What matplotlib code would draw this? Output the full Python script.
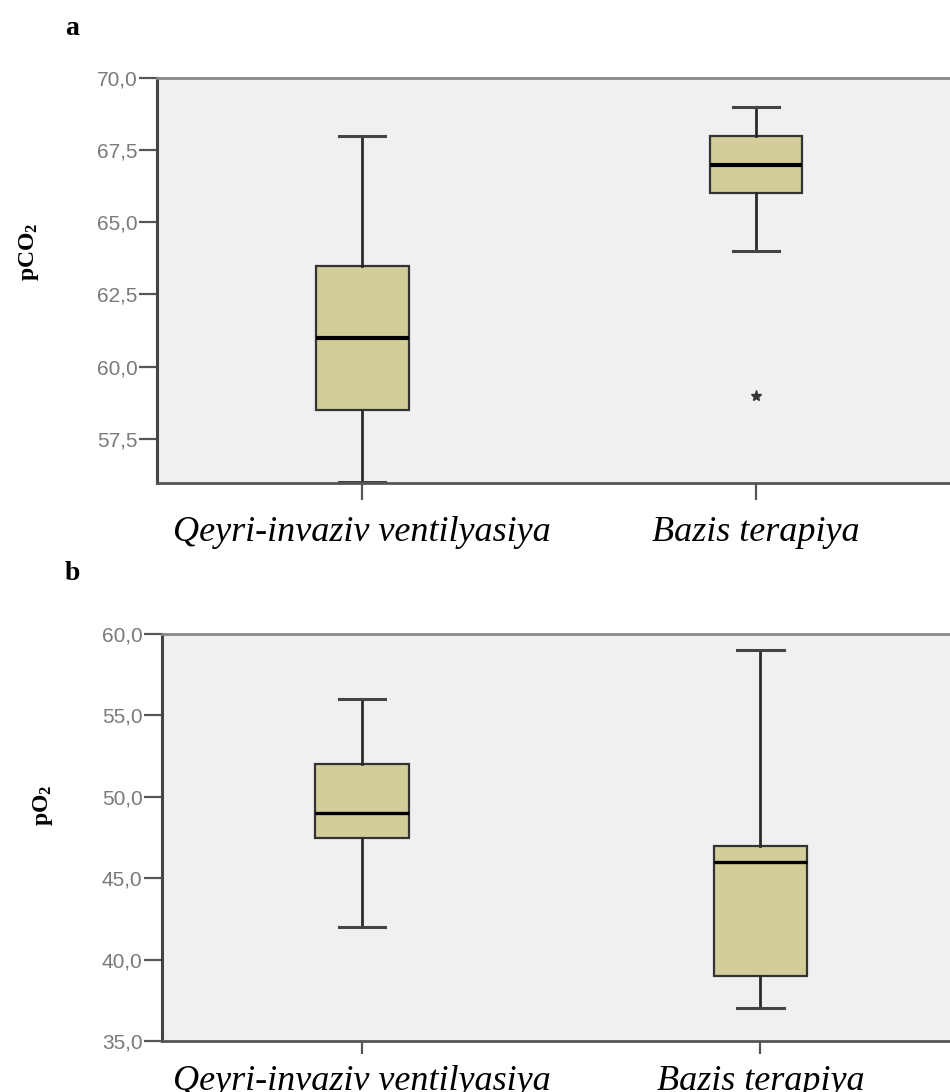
import numpy as np
import matplotlib.pyplot as plt

# group names (x categories)
groups = ["Qeyri-invaziv ventilyasiya", "Bazis terapiya"]

# panel a: pCO2 box stats per group
pco2_low = [56.0, 64.0]
pco2_q1 = [58.5, 66.0]
pco2_med = [61.0, 67.0]
pco2_q3 = [63.5, 68.0]
pco2_high = [68.0, 69.0]
pco2_out = [[], [59.0]]

# panel b: pO2 box stats per group
po2_low = [42.0, 37.0]
po2_q1 = [47.5, 39.0]
po2_med = [49.0, 46.0]
po2_q3 = [52.0, 47.0]
po2_high = [56.0, 59.0]
po2_out = [[], []]

plt.rcParams['mathtext.fontset'] = 'custom'
plt.rcParams['mathtext.bf'] = 'Liberation Serif:bold'
plt.rcParams['mathtext.rm'] = 'Liberation Serif'

box_color = '#d3ce99'
bg = '#f0f0f0'


def make_stats(low, q1, med, q3, high, out):
    stats = []
    for i in range(len(low)):
        stats.append({'whislo': low[i], 'q1': q1[i], 'med': med[i], 'q3': q3[i],
                      'whishi': high[i], 'fliers': out[i]})
    return stats


def draw_panel(ax, stats, ylim, yticks, ylabel, xlim, pad, blen, medw):
    ax.set_facecolor(bg)
    ax.bxp(stats, positions=[0, 1], widths=0.235, patch_artist=True,
           showfliers=True, manage_ticks=False,
           boxprops=dict(facecolor=box_color, edgecolor='#333333', linewidth=1.6),
           medianprops=dict(color='black', linewidth=medw),
           whiskerprops=dict(color='#2a2a2a', linewidth=2),
           capprops=dict(color='#444444', linewidth=2.2),
           flierprops=dict(marker='*', markersize=8, markerfacecolor='#333333',
                           markeredgecolor='#333333', linestyle='none'))
    ax.set_xlim(*xlim)
    ax.set_ylim(*ylim)
    ax.set_yticks(yticks)
    ax.set_yticklabels([f'{v:.1f}'.replace('.', ',') for v in yticks],
                       fontsize=15, color='#7a7a7a', family='Liberation Sans')
    ax.set_xticks([0, 1])
    ax.set_xticklabels(groups, fontsize=26, style='italic', family='Liberation Serif',
                       color='black')
    ax.tick_params(axis='y', length=13, width=1.6, color='#555555', pad=1)
    ax.tick_params(axis='x', length=blen, width=1.6, color='#555555', pad=pad)
    ax.spines['right'].set_visible(False)
    ax.spines['left'].set_color('#444444')
    ax.spines['left'].set_linewidth(2.2)
    ax.spines['top'].set_color('#888888')
    ax.spines['top'].set_linewidth(2)
    ax.spines['bottom'].set_color('#555555')
    ax.spines['bottom'].set_linewidth(2)
    ax.set_ylabel(ylabel, fontsize=17)


fig = plt.figure(figsize=(9.5, 10.92), dpi=100)

ax1 = fig.add_axes([0.1653, 0.5577, 0.84, 0.3709])
draw_panel(ax1, make_stats(pco2_low, pco2_q1, pco2_med, pco2_q3, pco2_high, pco2_out),
           (55.97, 70.0), [57.5, 60.0, 62.5, 65.0, 67.5, 70.0],
           r'$\mathbf{pCO_2}$', (-0.5217, 1.496 + 0.01), 12, 12, 3)
ax1.yaxis.set_label_coords(-0.145, 0.57)

ax2 = fig.add_axes([0.1705, 0.0467, 0.834, 0.3727])
draw_panel(ax2, make_stats(po2_low, po2_q1, po2_med, po2_q3, po2_high, po2_out),
           (35.0, 60.0), [35.0, 40.0, 45.0, 50.0, 55.0, 60.0],
           r'$\mathbf{pO_2}$', (-0.5025, 1.477 + 0.01), 8, 9, 2.4)
ax2.yaxis.set_label_coords(-0.135, 0.58)

fig.text(0.076, 0.974, 'a', fontsize=20, fontweight='bold', family='Liberation Serif',
         ha='center', va='center')
fig.text(0.076, 0.475, 'b', fontsize=20, fontweight='bold', family='Liberation Serif',
         ha='center', va='center')

fig.savefig('out.png', dpi=100)
